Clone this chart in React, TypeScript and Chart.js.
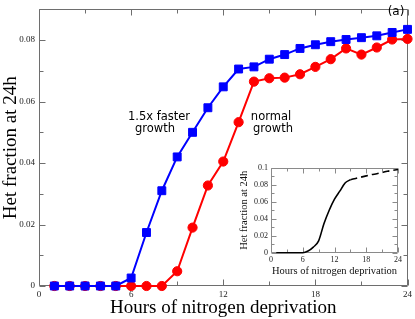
import React, { useEffect, useRef } from "react";
import { Chart, registerables } from "chart.js";
Chart.register(...registerables);

// ---- main chart data ----
const hours = [1, 2, 3, 4, 5, 6, 7, 8, 9, 10, 11, 12, 13, 14, 15, 16, 17, 18, 19, 20, 21, 22, 23, 24];
const fasterGrowth = [0, 0, 0, 0, 0, 0.0026, 0.0174, 0.031, 0.042, 0.05, 0.058, 0.0648, 0.0706, 0.0713, 0.0738, 0.0753, 0.0773, 0.0785, 0.0795, 0.0802, 0.0808, 0.0814, 0.0825, 0.0835];
const normalGrowth = [0, 0, 0, 0, 0, 0, 0, 0, 0.0048, 0.019, 0.0327, 0.0405, 0.0533, 0.0665, 0.0676, 0.0678, 0.0689, 0.0713, 0.0738, 0.0773, 0.0753, 0.0776, 0.0802, 0.0804];
const xTicks = [0, 6, 12, 18, 24];
const yTicks = [0, 0.02, 0.04, 0.06, 0.08];

// ---- inset data ----
const insetHoursSolid = [1, 2, 3, 4, 5, 6, 7, 8, 9, 10, 11, 12, 13, 14, 15];
const insetSolid = [0, 0, 0, 0, 0, 0, 0.002, 0.0066, 0.014, 0.034, 0.05, 0.063, 0.0725, 0.082, 0.086];
const insetHoursDashed = [15, 16, 17, 18, 19, 20, 21, 22, 23, 24];
const insetDashed = [0.086, 0.0875, 0.089, 0.0905, 0.092, 0.093, 0.0945, 0.096, 0.097, 0.098];
const insetXTicks = [0, 6, 12, 18, 24];
const insetYTicks = [0, 0.02, 0.04, 0.06, 0.08, 0.1];

const SERIF = "'Liberation Serif', 'Times New Roman', serif";
const SANS = "'DejaVu Sans', sans-serif";

const frameTicks = {
  id: "frameTicks",
  beforeDatasetsDraw(chart: any, _args: any, opts: any) {
    const { ctx, chartArea: a, scales } = chart;
    const x = scales.x;
    const y = scales.y;
    ctx.save();
    ctx.strokeStyle = opts.color;
    ctx.lineWidth = 1;
    const L = Math.round(a.left) + 0.5;
    const R = Math.round(a.right) - 0.5;
    const T = Math.round(a.top) + 0.5;
    const B = Math.round(a.bottom) - 0.5;
    ctx.beginPath();
    ctx.rect(L, T, R - L, B - T);
    const isMajor = (v: number, step: number) => Math.abs(v / step - Math.round(v / step)) < 1e-6;
    const nx = Math.round((x.max - x.min) / opts.xMinor);
    for (let i = 0; i <= nx; i++) {
      const v = x.min + i * opts.xMinor;
      const len = isMajor(v, opts.xMajor) ? opts.majorLen : opts.minorLen;
      const px = Math.round(x.getPixelForValue(v)) + 0.5;
      ctx.moveTo(px, B);
      ctx.lineTo(px, B - len);
      ctx.moveTo(px, T);
      ctx.lineTo(px, T + len);
    }
    const ny = Math.round((y.max - y.min) / opts.yMinor);
    for (let i = 0; i <= ny; i++) {
      const v = y.min + i * opts.yMinor;
      const len = isMajor(v, opts.yMajor) ? opts.majorLen : opts.minorLen;
      const py = Math.round(y.getPixelForValue(v)) + 0.5;
      ctx.moveTo(L, py);
      ctx.lineTo(L + len, py);
      ctx.moveTo(R, py);
      ctx.lineTo(R - len, py);
    }
    ctx.stroke();
    ctx.restore();
  },
};

const textNotes = {
  id: "textNotes",
  afterDraw(chart: any, _args: any, opts: any) {
    const { ctx } = chart;
    ctx.save();
    ctx.fillStyle = "#000";
    ctx.textAlign = "center";
    ctx.textBaseline = "middle";
    for (const it of opts.items || []) {
      ctx.font = it.font;
      ctx.fillText(it.text, it.x, it.y);
    }
    ctx.restore();
  },
};

const fmt = (v: number) => (v === 0 ? "0" : String(parseFloat(v.toFixed(2))));

export default function App() {
  const mainRef = useRef<HTMLCanvasElement>(null);
  const insetRef = useRef<HTMLCanvasElement>(null);

  useEffect(() => {
    const main = new Chart(mainRef.current as HTMLCanvasElement, {
      type: "line",
      data: {
        datasets: [
          {
            label: "1.5x faster growth",
            data: hours.map((h, i) => ({ x: h, y: fasterGrowth[i] })),
            borderColor: "#0000ff",
            backgroundColor: "#0000ff",
            borderWidth: 2,
            pointStyle: "rect",
            pointRadius: 5.6,
            pointBorderWidth: 1,
            pointBorderColor: "#0000ff",
            pointBackgroundColor: "#0000ff",
            clip: false,
          } as any,
          {
            label: "normal growth",
            data: hours.map((h, i) => ({ x: h, y: normalGrowth[i] })),
            borderColor: "#ff0000",
            backgroundColor: "#ff0000",
            borderWidth: 2,
            pointStyle: "circle",
            pointRadius: 4.6,
            pointBorderWidth: 1,
            pointBorderColor: "#ff0000",
            pointBackgroundColor: "#ff0000",
            clip: false,
          } as any,
        ],
      },
      options: {
        responsive: false,
        animation: false,
        devicePixelRatio: 1,
        layout: { padding: { left: 0, top: 2, right: 6, bottom: 0 } },
        plugins: {
          legend: { display: false },
          tooltip: { enabled: false },
          frameTicks: { color: "#6e6e6e", xMajor: 6, xMinor: 3, yMajor: 0.02, yMinor: 0.01, majorLen: 6, minorLen: 4 },
          textNotes: {
            items: [
              { text: "1.5x faster", x: 159, y: 117, font: `11.5px ${SANS}` },
              { text: "growth", x: 155, y: 129.5, font: `11.5px ${SANS}` },
              { text: "normal", x: 271, y: 117, font: `11.5px ${SANS}` },
              { text: "growth", x: 273, y: 129.5, font: `11.5px ${SANS}` },
              { text: "(a)", x: 396, y: 12, font: `12px ${SANS}` },
            ],
          },
        } as any,
        scales: {
          x: {
            type: "linear",
            min: 0,
            max: 24,
            afterFit: (s: any) => {
              s.height = 33;
            },
            afterBuildTicks: (s: any) => {
              s.ticks = xTicks.map((v) => ({ value: v }));
            },
            grid: { display: false, drawTicks: false },
            border: { display: false },
            ticks: { font: { family: SERIF, size: 9 }, color: "#222", padding: 3, maxRotation: 0, autoSkip: false, callback: (v: any) => fmt(Number(v)) },
            title: { display: true, text: "Hours of nitrogen deprivation", font: { family: SERIF, size: 19 }, color: "#000", padding: { top: 0, bottom: 0 } },
          },
          y: {
            type: "linear",
            min: 0,
            max: 0.09,
            afterFit: (s: any) => {
              s.width = 39;
            },
            afterBuildTicks: (s: any) => {
              s.ticks = yTicks.map((v) => ({ value: v }));
            },
            grid: { display: false, drawTicks: false },
            border: { display: false },
            ticks: { font: { family: SERIF, size: 9 }, color: "#222", padding: 4, autoSkip: false, callback: (v: any) => fmt(Number(v)) },
            title: { display: true, text: "Het fraction at 24h", font: { family: SERIF, size: 19 }, color: "#000", padding: { top: 0, bottom: 0 } },
          },
        },
      } as any,
      plugins: [frameTicks, textNotes],
    });

    const inset = new Chart(insetRef.current as HTMLCanvasElement, {
      type: "line",
      data: {
        datasets: [
          {
            label: "inset solid",
            data: insetHoursSolid.map((h, i) => ({ x: h, y: insetSolid[i] })),
            borderColor: "#000",
            borderWidth: 1.6,
            pointRadius: 0,
            cubicInterpolationMode: "monotone",
            clip: false,
          } as any,
          {
            label: "inset dashed",
            data: insetHoursDashed.map((h, i) => ({ x: h, y: insetDashed[i] })),
            borderColor: "#000",
            borderWidth: 1.6,
            borderDash: [7, 4],
            pointRadius: 0,
            cubicInterpolationMode: "monotone",
            clip: false,
          } as any,
        ],
      },
      options: {
        responsive: false,
        animation: false,
        devicePixelRatio: 1,
        layout: { padding: { left: 0, top: 6.5, right: 10, bottom: 0 } },
        plugins: {
          legend: { display: false },
          tooltip: { enabled: false },
          frameTicks: { color: "#8a8a8a", xMajor: 6, xMinor: 3, yMajor: 0.02, yMinor: 0.01, majorLen: 5, minorLen: 3 },
        } as any,
        scales: {
          x: {
            type: "linear",
            min: 0,
            max: 24,
            afterFit: (s: any) => {
              s.height = 27.3;
            },
            afterBuildTicks: (s: any) => {
              s.ticks = insetXTicks.map((v) => ({ value: v }));
            },
            grid: { display: false, drawTicks: false },
            border: { display: false },
            ticks: { font: { family: SERIF, size: 8 }, color: "#222", padding: 2, maxRotation: 0, autoSkip: false, callback: (v: any) => fmt(Number(v)) },
            title: { display: true, text: "Hours of nitrogen deprivation", font: { family: SERIF, size: 10.5 }, color: "#111", padding: { top: 0, bottom: 2.7 } },
          },
          y: {
            type: "linear",
            min: 0,
            max: 0.1,
            afterFit: (s: any) => {
              s.width = 39;
            },
            afterBuildTicks: (s: any) => {
              s.ticks = insetYTicks.map((v) => ({ value: v }));
            },
            grid: { display: false, drawTicks: false },
            border: { display: false },
            ticks: { font: { family: SERIF, size: 8 }, color: "#222", padding: 3, autoSkip: false, callback: (v: any) => fmt(Number(v)) },
            title: { display: true, text: "Het fraction at 24h", font: { family: SERIF, size: 10.5 }, color: "#111", padding: { top: 5.7, bottom: 0 } },
          },
        },
      } as any,
      plugins: [frameTicks],
    });

    return () => {
      main.destroy();
      inset.destroy();
    };
  }, []);

  return (
    <div style={{ position: "fixed", left: 0, top: 0, width: 415, height: 319, background: "#fff" }}>
      <canvas ref={mainRef} width={415} height={319} style={{ position: "absolute", left: 0, top: 0 }} />
      <canvas ref={insetRef} width={176} height={120} style={{ position: "absolute", left: 232, top: 160 }} />
    </div>
  );
}
